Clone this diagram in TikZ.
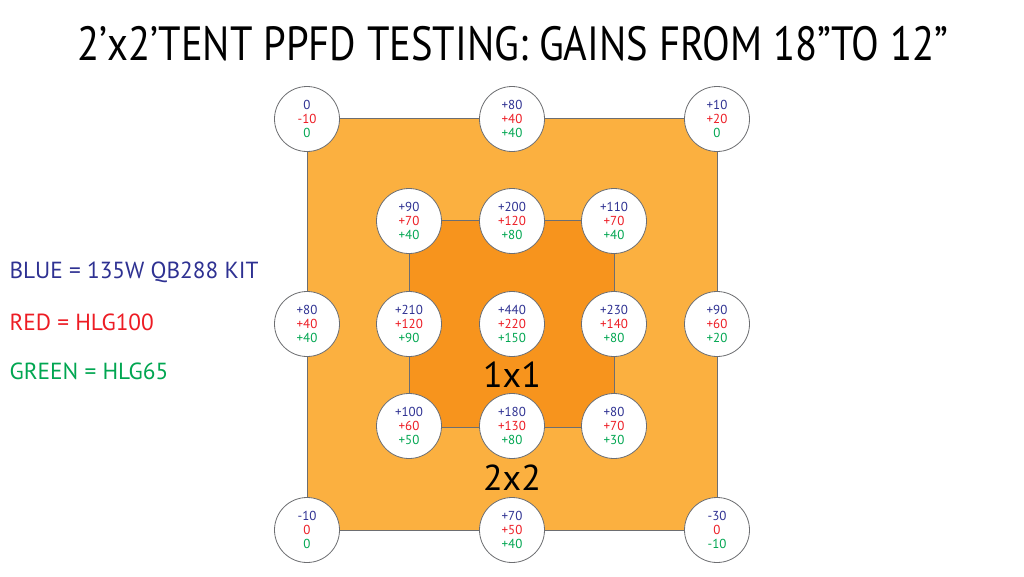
\documentclass[tikz,border=0pt]{standalone}
\usepackage{fontspec}
\setmainfont{PT Sans}
\definecolor{qblue}{HTML}{2E3192}
\definecolor{qred}{HTML}{ED1C24}
\definecolor{qgreen}{HTML}{00A651}
\definecolor{outerc}{HTML}{FBB040}
\definecolor{innerc}{HTML}{F7941D}
\definecolor{edgec}{HTML}{6D6E71}
\newcommand{\pv}[3]{\textcolor{qblue}{#1}\\\textcolor{qred}{#2}\\\textcolor{qgreen}{#3}}
\begin{document}
\begin{tikzpicture}[x=1pt,y=-1pt,
  meas/.style={circle,draw=edgec,line width=0.8pt,fill=white,minimum size=65pt,inner sep=0pt,
    align=center,font=\fontsize{13}{14}\selectfont},
  sq/.style={draw=edgec,line width=0.8pt},
  legend/.style={anchor=west,font=\fontsize{23.3}{28}\selectfont}]
\useasboundingbox (0,0) rectangle (1024,576);
\fill[white] (0,0) rectangle (1024,576);
\coordinate (o1) at (307,118);
\coordinate (o2) at (717,530);
\coordinate (i1) at (409,220);
\coordinate (i2) at (614,427);
\filldraw[sq,fill=outerc] (o1) rectangle (o2);
\filldraw[sq,fill=innerc] (i1) rectangle (i2);
\node[font=\fontsize{48}{52}\selectfont] (title) at (513,44) {\scalebox{0.845}[1]{2\textquoteright x2\textquoteright TENT PPFD TESTING: GAINS FROM 18\textquotedblright TO 12\textquotedblright}};
\node[font=\fontsize{36}{40}\selectfont] (l1) at (512,375) {1x1};
\node[font=\fontsize{36}{40}\selectfont] (l2) at (512,478) {2x2};
\node[legend,text=qblue] (lb) at (6,272) {BLUE = 135W QB288 KIT};
\node[legend,text=qred] (lr) at (6,322) {RED = HLG100};
\node[legend,text=qgreen] (lg) at (6,371) {GREEN = HLG65};
% row 1
\node[meas] (a1) at (307,119) {\pv{0}{-10}{0}};
\node[meas] (a3) at (512,119) {\pv{+80}{+40}{+40}};
\node[meas] (a5) at (717,119) {\pv{+10}{+20}{0}};
% row 2
\node[meas] (b2) at (409,221) {\pv{+90}{+70}{+40}};
\node[meas] (b3) at (512,221) {\pv{+200}{+120}{+80}};
\node[meas] (b4) at (614,221) {\pv{+110}{+70}{+40}};
% row 3
\node[meas] (c1) at (307,324) {\pv{+80}{+40}{+40}};
\node[meas] (c2) at (409,324) {\pv{+210}{+120}{+90}};
\node[meas] (c3) at (512,324) {\pv{+440}{+220}{+150}};
\node[meas] (c4) at (614,324) {\pv{+230}{+140}{+80}};
\node[meas] (c5) at (717,324) {\pv{+90}{+60}{+20}};
% row 4
\node[meas] (d2) at (409,426) {\pv{+100}{+60}{+50}};
\node[meas] (d3) at (512,426) {\pv{+180}{+130}{+80}};
\node[meas] (d4) at (614,426) {\pv{+80}{+70}{+30}};
% row 5
\node[meas] (e1) at (307,530) {\pv{-10}{0}{0}};
\node[meas] (e3) at (512,530) {\pv{+70}{+50}{+40}};
\node[meas] (e5) at (717,530) {\pv{-30}{0}{-10}};
\end{tikzpicture}
\end{document}
